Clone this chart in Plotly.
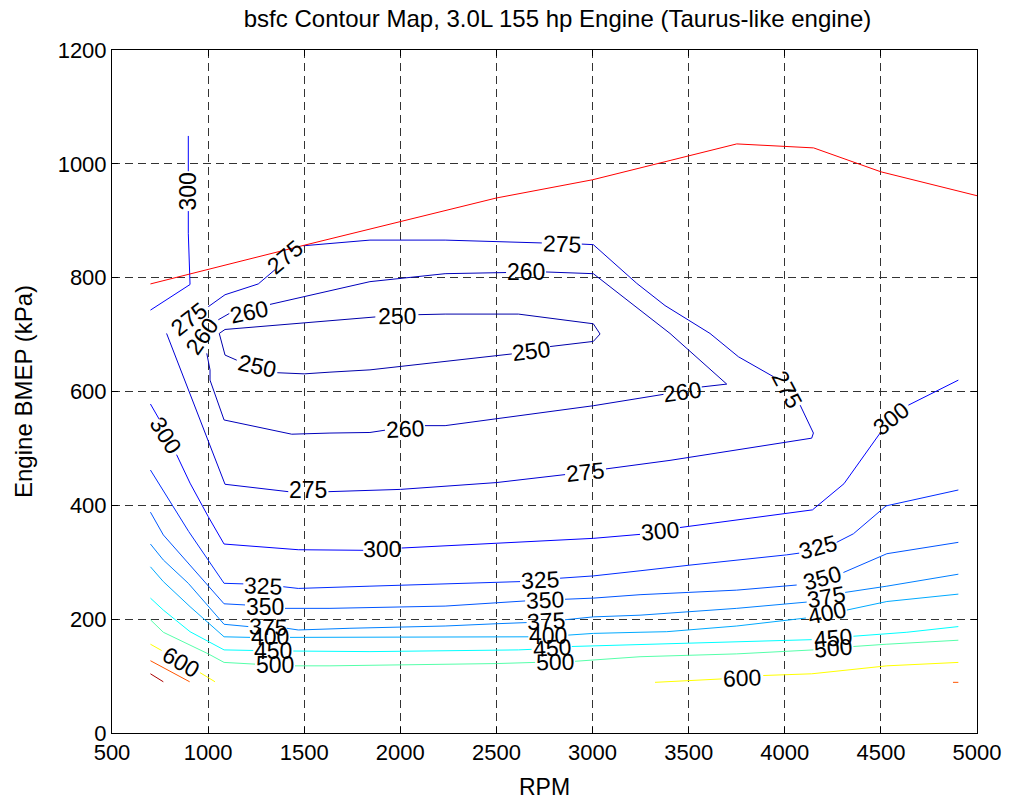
import plotly.graph_objects as go

# ---------------- data ----------------
title_text = "bsfc Contour Map, 3.0L 155 hp Engine (Taurus-like engine)"
x_title = "RPM"
y_title = "Engine BMEP (kPa)"
x_ticks = [500, 1000, 1500, 2000, 2500, 3000, 3500, 4000, 4500, 5000]
y_ticks = [0, 200, 400, 600, 800, 1000, 1200]

# wide-open-throttle (max BMEP) curve
wot_rpm = [700, 1500, 2500, 3000, 3750, 4150, 4500, 5000]
wot_bmep = [789, 857, 940, 972, 1035, 1028, 986, 944]

# bsfc contour lines (g/kWh); None = gap where the inline label sits
c250_rpm = [1088, 1634, 1870, None, 2094, 2233, 2614, 3004, 3039, 3004, 2779, None,
            2580, 2501, 1842, 1634, 1500, 1360, None, 1149, 1088, 1058, 1088]
c250_bmep = [709, 725, 731, None, 735, 736, 736, 719, 701, 688, 679, None,
             666, 663, 638, 634, 631, 633, None, 655, 664, 702, 709]

c260_rpm = [1083, 1010, 1010, 993, None, 1053, 1097, 1110, None, 1322, 1738, 1842, 2233, 2550, None,
            2758, 3004, 3403, 3698, 3568, None, 3369, 3004, 2233, 2128, None, 1920, 1842, 1634, 1435, 1083]
c260_bmep = [550, 620, 638, 667, None, 726, 735, 737, None, 753, 786, 793, 807, 809, None,
             810, 807, 702, 613, 608, None, 595, 575, 540, 540, None, 532, 528, 527, 525, 550]

c275_rpm = [1088, 784, None, 1001, 1088, 1261, 1348, None, 1495, 1738, 1842, 2233, 2614, 2736, None,
            2944, 3004, 3230, 3377, 3611, 3759, 3941, None, 4080, 4149, 4140, 3403, 3070, None,
            2857, 2500, 2000, 1738, 1626, None, 1417, 1088]
c275_bmep = [437, 702, None, 749, 770, 789, 814, None, 856, 863, 866, 866, 862, 861, None,
             859, 858, 790, 751, 702, 661, 626, None, 576, 527, 518, 479, 464, None,
             454, 440, 428, 425, 424, None, 424, 437]

c300_rpm = [700, 906, 897, 897, None, 897, 897, None,
            700, 746, None, 836, 906, 1001, 1083, 1469, 1700, 1807, None, 2007, 2501, 3004, 3247, None,
            3455, 4010, 4144, 4308, 4496, None, 4643, 4903]
c300_bmep = [743, 788, 878, 917, None, 987, 1049, None,
             578, 551, None, 489, 439, 380, 332, 322, 321, 321, None, 325, 333, 342, 349, None,
             361, 386, 392, 438, 527, None, 576, 620]

c325_rpm = [700, 899, 1083, 1183, None, 1391, 1469, 1842, 2501, 2623, None, 2831, 3004, 3247, 3507,
            4010, 4075, None, 4270, 4357, 4527, 4903]
c325_bmep = [462, 354, 263, 262, None, 257, 254, 258, 264, 266, None, 272, 276, 285, 295,
             313, 316, None, 335, 350, 399, 427]

c350_rpm = [700, 767, 1083, 1192, None, 1400, 1634, 2233, 2501, 2649, None, 2857, 3004, 3247, 3750,
            4062, None, 4305, 4531, 4903]
c350_bmep = [388, 348, 227, 225, None, 219, 219, 223, 229, 232, None, 235, 237, 243, 251,
             260, None, 282, 315, 335]

c375_rpm = [700, 767, 897, 1083, 1209, None, 1409, 1469, 1738, 2233, 2501, 2657, None, 2857, 3004,
            3247, 3750, 4114, None, 4314, 4531, 4903]
c375_bmep = [332, 304, 263, 191, 187, None, 184, 181, 184, 188, 192, 194, None, 199, 204,
             207, 219, 230, None, 247, 258, 279]

c400_rpm = [700, 767, 906, 1083, 1218, None, 1426, 1738, 2501, 2666, None, 2874, 3004, 3247, 3386,
            3750, 4110, None, 4323, 4531, 4903]
c400_bmep = [292, 266, 222, 169, 168, None, 168, 168, 169, 169, None, 172, 175, 177, 178,
             188, 202, None, 216, 231, 244]

c450_rpm = [700, 767, 906, 1083, 1235, None, 1443, 1842, 2614, 2683, None, 2892, 3004, 3247, 4010,
            4140, None, 4357, 4531, 4635, 4903]
c450_bmep = [237, 216, 178, 146, 145, None, 144, 143, 146, 147, None, 152, 153, 155, 162,
             164, None, 170, 174, 177, 187]

c500_rpm = [700, 767, 1001, 1083, 1244, None, 1452, 1634, 2501, 2701, None, 2909, 3004, 3247, 3750,
            4149, None, 4357, 4531, 4903]
c500_bmep = [199, 177, 139, 124, 121, None, 118, 118, 122, 124, None, 126, 128, 134, 139,
             146, None, 152, 156, 163]

c600_rpm = [700, 758, None, 958, 1036, None, 3325, 3672, None, 3888, 4140, 4531, 4903]
c600_bmep = [156, 145, None, 106, 90, None, 89, 95, None, 101, 104, 118, 124]

c700_rpm = [700, 904, None, 4875, 4903]
c700_bmep = [127, 90, None, 89, 89]

c800_rpm = [700, 767]
c800_bmep = [104, 90]

levels = [250, 260, 275, 300, 325, 350, 375, 400, 450, 500, 600, 700, 800]
level_colors = ["#0000AA", "#0000BB", "#0000D5", "#0000FF", "#002BFF", "#0055FF", "#0080FF",
                "#00AAFF", "#00FFFF", "#55FFAA", "#FFFF00", "#FF5500", "#AA0000"]

# inline contour labels: text, rpm, bmep, rotation
label_text = ["250", "250", "250",
              "260", "260", "260", "260", "260",
              "275", "275", "275", "275", "275", "275",
              "300", "300", "300", "300", "300",
              "325", "325", "325",
              "350", "350", "350",
              "375", "375", "375",
              "400", "400", "400",
              "450", "450", "450",
              "500", "500", "500",
              "600", "600"]
label_rpm = [1982, 1255, 2680,
             970, 1214, 2655, 3467, 2024,
             902, 1400, 2840, 4010, 2963, 1521,
             897, 779, 1907, 3351, 4550,
             1287, 2727, 4175,
             1296, 2753, 4195,
             1309, 2757, 4214,
             1322, 2770, 4218,
             1339, 2787, 4249,
             1348, 2805, 4253,
             858, 3780]
label_bmep = [733, 645, 672,
              697, 739, 810, 600, 535,
              727, 836, 860, 604, 459, 427,
              952, 524, 323, 355, 552,
              259, 269, 326,
              222, 234, 272,
              186, 197, 239,
              168, 170, 210,
              144, 150, 167,
              119, 125, 149,
              125, 97]
label_angle = [-1, 12, -7,
               -55, -12, 0, -8, -3,
               -38, -40, 2, 62, -6, 0,
               -90, 58, -1, -5, -38,
               2, -3, -15,
               0, -2, -15,
               2, -3, -10,
               0, 0, -12,
               0, -3, -5,
               0, -1, -5,
               30, -2]

# ---------------- figure ----------------
FONT = "Liberation Sans, Arial, Helvetica, sans-serif"
contours_rpm = [c250_rpm, c260_rpm, c275_rpm, c300_rpm, c325_rpm, c350_rpm, c375_rpm,
                c400_rpm, c450_rpm, c500_rpm, c600_rpm, c700_rpm, c800_rpm]
contours_bmep = [c250_bmep, c260_bmep, c275_bmep, c300_bmep, c325_bmep, c350_bmep, c375_bmep,
                 c400_bmep, c450_bmep, c500_bmep, c600_bmep, c700_bmep, c800_bmep]

fig = go.Figure()
for lvl, col, xs, ys in zip(levels, level_colors, contours_rpm, contours_bmep):
    fig.add_trace(go.Scatter(x=xs, y=ys, mode="lines", name=str(lvl),
                             line=dict(color=col, width=1), connectgaps=False,
                             hoverinfo="skip"))

fig.add_trace(go.Scatter(x=wot_rpm, y=wot_bmep, mode="lines", name="WOT",
                         line=dict(color="#FF0000", width=1), hoverinfo="skip"))

for t, xr, yb, ang in zip(label_text, label_rpm, label_bmep, label_angle):
    fig.add_annotation(x=xr, y=yb, text=t, showarrow=False, textangle=ang,
                       font=dict(family=FONT, size=23, color="black"),
                       xanchor="center", yanchor="middle")

axis_common = dict(showline=True, linecolor="black", linewidth=1, mirror="ticks",
                   ticks="inside", ticklen=6, tickcolor="black",
                   showgrid=True, gridcolor="#333333", gridwidth=1, griddash="8px,5px",
                   zeroline=False, automargin=False,
                   tickfont=dict(family=FONT, size=22, color="black"))

fig.update_xaxes(range=[500, 5000], tickvals=x_ticks, ticktext=[str(v) for v in x_ticks],
                 title=dict(text=x_title, font=dict(family=FONT, size=23, color="black"), standoff=14),
                 **axis_common)
fig.update_yaxes(range=[0, 1200], tickvals=y_ticks, ticktext=[str(v) for v in y_ticks],
                 title=dict(text=y_title, font=dict(family=FONT, size=24, color="black"), standoff=18),
                 **axis_common)

fig.update_layout(
    width=1010, height=802,
    margin=dict(l=112, r=33, t=50, b=69),
    paper_bgcolor="white", plot_bgcolor="white",
    showlegend=False,
    title=dict(text=title_text, x=0.552, xanchor="center", y=0.977, yanchor="middle",
               font=dict(family=FONT, size=24, color="black")),
)

fig.write_html("out.html", include_plotlyjs=True, config={"displayModeBar": False},
               post_script="document.body.style.margin='0';")
